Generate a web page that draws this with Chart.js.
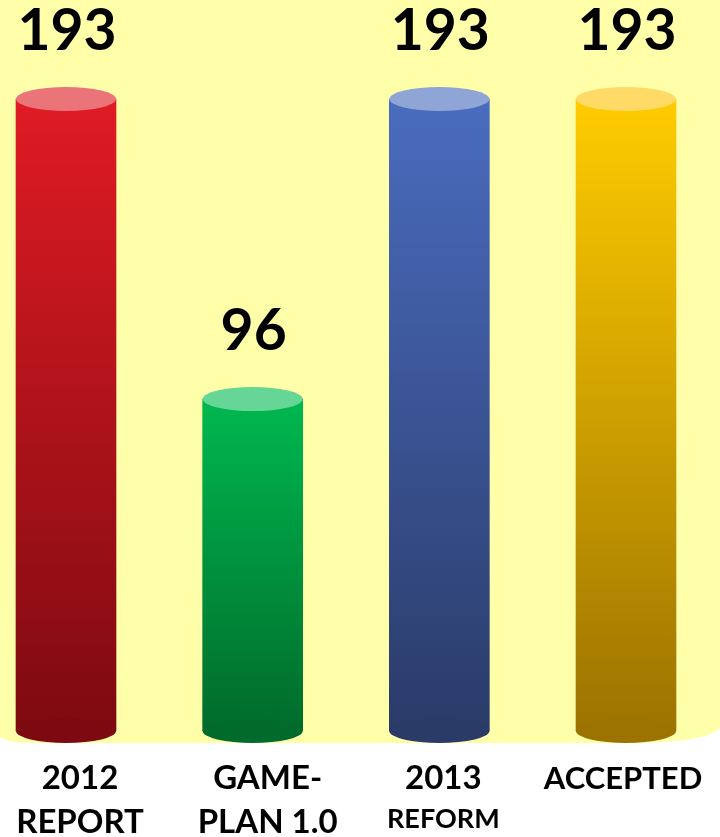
<!DOCTYPE html>
<html>
<head>
<meta charset="utf-8">
<script src="https://cdn.jsdelivr.net/npm/chart.js@4"></script>
<style>
  html, body { margin: 0; padding: 0; background: #fff; }
  #wrap { width: 720px; height: 837px; position: relative; }
</style>
</head>
<body>
<div id="wrap"><canvas id="chart"></canvas></div>
<script>
var categories = [['2012', 'REPORT'], ['GAME-', 'PLAN 1.0'], ['2013', 'REFORM'], ['ACCEPTED']];
var values = [193, 96, 193, 193];
var topColors = ['#E01B24', '#00B84F', '#4A6CBF', '#FFCC00'];
var bottomColors = ['#7D0A10', '#006B2B', '#2A3B68', '#9C7300'];
var capColors = ['#EB7479', '#66D696', '#8FA5D6', '#FFDA66'];

var FONT = 'Lato, "Open Sans", sans-serif';
var RY = 12; // half height of the cylinder ellipses

function bodyGradient(ctx) {
    var chart = ctx.chart;
    var i = ctx.dataIndex;
    if (!chart.chartArea || i === undefined) return topColors[i || 0];
    var y = chart.scales.y;
    var top = y.getPixelForValue(values[i]);
    var bottom = y.getPixelForValue(y.min);
    var g = chart.ctx.createLinearGradient(0, top, 0, bottom);
    g.addColorStop(0, topColors[i]);
    g.addColorStop(1, bottomColors[i]);
    return g;
}

// yellow backdrop with rounded bottom corners
var backdrop = {
    id: 'backdrop',
    beforeDraw: function(chart) {
        var c = chart.ctx;
        var b = chart.chartArea.bottom + 12;
        c.save();
        c.fillStyle = '#FFFFAA';
        c.beginPath();
        c.moveTo(0, 0);
        c.lineTo(720, 0);
        c.lineTo(720, b - 15);
        c.quadraticCurveTo(705, b, 630, b);
        c.lineTo(30, b);
        c.quadraticCurveTo(8, b, 0, b - 6);
        c.closePath();
        c.fill();
        c.restore();
    }
};

// ellipses, value labels and category labels
var cylinders = {
    id: 'cylinders',
    afterDatasetsDraw: function(chart) {
        var c = chart.ctx;
        var meta = chart.getDatasetMeta(0);
        c.save();
        meta.data.forEach(function(bar, i) {
            var w = bar.width / 2;
            // bottom cap
            c.fillStyle = bottomColors[i];
            c.beginPath();
            c.ellipse(bar.x, bar.base, w, RY, 0, 0, Math.PI * 2);
            c.fill();
            // top cap
            c.fillStyle = capColors[i];
            c.beginPath();
            c.ellipse(bar.x, bar.y, w, RY, 0, 0, Math.PI * 2);
            c.fill();
            // value
            c.fillStyle = '#000';
            c.textAlign = 'center';
            c.textBaseline = 'alphabetic';
            c.font = 'bold 57px ' + FONT;
            c.fillText(String(values[i]), bar.x + 1, bar.y - RY - 37);
        });
        c.restore();
    },
    afterDraw: function(chart) {
        var c = chart.ctx;
        var meta = chart.getDatasetMeta(0);
        var bottom = chart.chartArea.bottom;
        var sizes = [[33, 33], [33, 33], [33, 27], [31]];
        var shifts = [[0, 0], [0, 0], [0, -5], [0]];
        var dx = [14, 15, 4, -3];
        c.save();
        c.fillStyle = '#000';
        c.textAlign = 'center';
        c.textBaseline = 'alphabetic';
        meta.data.forEach(function(bar, i) {
            categories[i].forEach(function(line, j) {
                c.font = 'bold ' + sizes[i][j] + 'px ' + FONT;
                c.fillText(line, bar.x + dx[i], bottom + 58 + j * 44 + shifts[i][j]);
            });
        });
        c.restore();
    }
};

new Chart(document.getElementById('chart'), {
    type: 'bar',
    data: {
        labels: categories,
        datasets: [{
            data: values,
            base: -11.3,
            backgroundColor: bodyGradient,
            borderWidth: 0,
            barThickness: 100,
            clip: false
        }]
    },
    options: {
        responsive: true,
        maintainAspectRatio: false,
        animation: false,
        layout: {
            padding: { left: 66, right: 94, top: 99, bottom: 106 }
        },
        plugins: {
            legend: { display: false },
            tooltip: { enabled: false }
        },
        scales: {
            x: {
                display: false,
                offset: false,
                grid: { offset: false }
            },
            y: {
                display: false,
                min: -11.3,
                max: 193
            }
        }
    },
    plugins: [backdrop, cylinders]
});
</script>
</body>
</html>
